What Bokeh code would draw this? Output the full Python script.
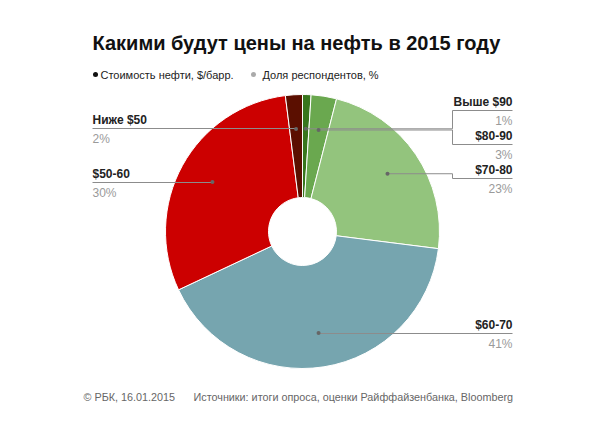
import numpy as np
from bokeh.plotting import figure
from bokeh.models import Range1d
from bokeh.core.properties import value
from bokeh.embed import file_html
from bokeh.resources import INLINE

# ---- data ----
categories = ["Выше $90", "$80-90", "$70-80", "$60-70", "$50-60", "Ниже $50"]
shares = [1, 3, 23, 41, 30, 2]
title_text = "Какими будут цены на нефть в 2015 году"
legend_items = ["Стоимость нефти, $/барр.", "Доля респондентов, %"]
footer_left = "© РБК, 16.01.2015"
footer_right = "Источники: итоги опроса, оценки Райффайзенбанка, Bloomberg"

# ---- style / layout ----
palette = ["#38761d", "#6aa84f", "#93c47d", "#76a5af", "#cc0000", "#5b0f00"]
legend_colors = ["#111111", "#aaaaaa"]
label_line_y = [110, 144, 178, 333, 182, 128]   # reference-pixel y of each leader line
FONT = "Liberation Sans"

W, H = 600, 421
def X(rx):
    return rx
def Y(ry):
    return H - ry

p = figure(width=W, height=H, output_backend="svg", toolbar_location=None,
           x_range=Range1d(0, W), y_range=Range1d(0, H),
           x_axis_location=None, y_axis_location=None,
           min_border=0, min_border_left=0, min_border_right=0,
           min_border_top=0, min_border_bottom=0)
p.grid.visible = False
p.outline_line_color = None
p.background_fill_color = "white"
p.border_fill_color = "white"

# ---- pie ----
cx, cy = X(302), Y(231)
R_out, R_in = 137, 34
vals = np.array(shares, dtype=float)
frac = vals / vals.sum()
cum = np.cumsum(frac)
prev = np.concatenate([[0.0], cum[:-1]])
start = np.pi / 2 - 2 * np.pi * prev
end = np.pi / 2 - 2 * np.pi * cum

p.annular_wedge(x=cx, y=cy, inner_radius=R_in, outer_radius=R_out,
                start_angle=list(start), end_angle=list(end), direction="clock",
                fill_color=palette, line_color="white", line_width=1)

# ---- leader lines and labels ----
mid = (start + end) / 2
dot_x = cx + 0.75 * R_out * np.cos(mid)
dot_y = cy + 0.75 * R_out * np.sin(mid)
right_x, left_x, elbow_x = X(512), X(92), X(452)

xs, ys = [], []
for i in range(len(categories)):
    ly = Y(label_line_y[i])
    if np.cos(mid[i]) > 0:
        if abs(dot_y[i] - ly) > 1.5:
            xs.append([dot_x[i], elbow_x, elbow_x, right_x])
            ys.append([dot_y[i], dot_y[i], ly, ly])
        else:
            xs.append([dot_x[i], right_x])
            ys.append([ly, ly])
    else:
        xs.append([left_x, dot_x[i]])
        ys.append([ly, ly])
p.multi_line(xs=xs, ys=ys, line_color="#8c8c8c", line_width=1)
p.scatter(x=list(dot_x), y=list(dot_y), size=4, fill_color="#666666", line_color=None)

for i, cat in enumerate(categories):
    ly = Y(label_line_y[i])
    right = np.cos(mid[i]) > 0
    tx = right_x if right else left_x
    al = "right" if right else "left"
    p.text(x=[tx], y=[ly + 9], text=[cat], text_align=al, text_baseline="middle",
           text_font=value(FONT), text_font_style="bold", text_font_size="12px",
           text_color="#222222")
    p.text(x=[tx], y=[ly - 10], text=[f"{shares[i]}%"], text_align=al, text_baseline="middle",
           text_font=value(FONT), text_font_size="12px", text_color="#9a9a9a")

# ---- title ----
p.text(x=[X(92)], y=[Y(42)], text=[title_text], text_align="left", text_baseline="middle",
       text_font=value(FONT), text_font_style="bold", text_font_size="20px",
       text_color="#111111")

# ---- legend ----
leg_x = [X(95), X(253)]
p.scatter(x=leg_x, y=[Y(74)] * 2, size=5, fill_color=legend_colors, line_color=None)
p.text(x=[X(100), X(262)], y=[Y(74)] * 2, text=legend_items, text_align="left",
       text_baseline="middle", text_font=value(FONT), text_font_size="11px",
       text_color="#222222")

# ---- footer ----
p.text(x=[X(83), X(193)], y=[Y(396)] * 2, text=[footer_left, footer_right], text_align="left",
       text_baseline="middle", text_font=value(FONT), text_font_size="10.8px",
       text_color="#666666")

open("out.html", "w").write(file_html(p, INLINE))
